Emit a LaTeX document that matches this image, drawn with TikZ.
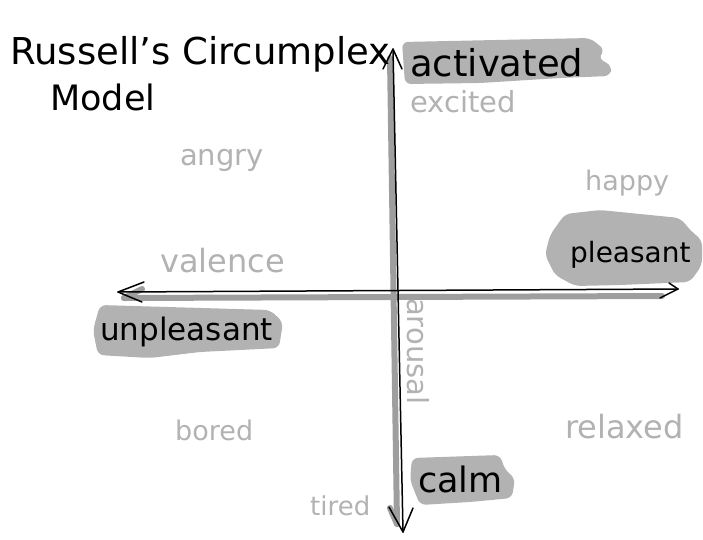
\documentclass[tikz,border=0pt]{standalone}
\usepackage{fontspec}
\setmainfont{DejaVu Sans}
\definecolor{blob}{gray}{0.70}
\definecolor{soft}{gray}{0.70}
\definecolor{under}{gray}{0.62}
\tikzset{
  hand/.style={anchor=base west, inner sep=0pt, text=black},
  faint/.style={anchor=base west, inner sep=0pt, text=soft},
  blobfill/.style={fill=blob, draw=none, rounded corners=6pt},
  axisunder/.style={draw=under, line width=6pt, line cap=round},
  axisline/.style={draw=black, line width=1.5pt, line cap=round, line join=round},
}
\newcommand{\fs}[1]{\fontsize{#1}{#1}\selectfont}
\begin{document}
\begin{tikzpicture}[x=1pt,y=-1pt]
\useasboundingbox (0,0) rectangle (703,539);
% highlight blobs
\fill[blobfill] (402,42) -- (590,38) -- (605,50) -- (598,58) -- (612,66) -- (610,76) -- (560,78) -- (480,83) -- (405,84) -- cycle;
\fill[blobfill] (565,214) -- (600,210) -- (680,218) -- (692,232) -- (702,240) -- (702,265) -- (690,282) -- (620,285) -- (575,286) -- (555,275) -- (545,255) -- (550,235) -- cycle;
\fill[blobfill] (100,305) -- (270,310) -- (283,322) -- (279,348) -- (200,352) -- (150,358) -- (98,355) -- (93,330) -- cycle;
\fill[blobfill] (412,458) -- (500,455) -- (505,470) -- (515,478) -- (512,498) -- (470,502) -- (420,505) -- (410,480) -- cycle;
% axis end points
\coordinate (vtop) at (393,49);
\coordinate (vbot) at (403,532);
\coordinate (vtopu) at (390,58);
\coordinate (vbotu) at (397,524);
\coordinate (hleft) at (118,292);
\coordinate (hright) at (678,289);
\coordinate (hleftu) at (124,298);
\coordinate (hrightu) at (662,296);
% axes (gray underlay)
\draw[axisunder] (vtopu) -- (vbotu);
\draw[axisunder] (hleftu) -- (hrightu);
\draw[under, line width=6pt, line cap=round] (vbotu) -- ++(-7,-16);
\draw[under, line width=6pt, line cap=round] (hleftu) -- ++(18,-9);
% axes (black lines with open heads)
\draw[axisline] (vtop) -- (vbot);
\draw[axisline] (hleft) -- (hright);
\draw[axisline] (vtop) ++(-10,20) -- (vtop) -- ++(9,20);
\draw[axisline] (vbot) ++(-14,-25) -- (vbot) -- ++(10,-24);
\draw[axisline] (hleft) ++(26,-10) -- (hleft) -- ++(24,10);
\draw[axisline] (hright) ++(-9,-6) -- (hright) -- ++(-18,9);
% title
\node[hand] (t1) at (10,64) {\fs{37}Russell's Circumplex};
\node[hand] (t2) at (50,110) {\fs{35}Model};
% pole labels
\node[hand] (act) at (410,76) {\fs{37}activated};
\node[hand] (ple) at (570,262) {\fs{28}pleasant};
\node[hand] (unp) at (100,340) {\fs{31}unpleasant};
\node[hand] (calm) at (418,492) {\fs{35}calm};
% faint labels
\node[faint] (exc) at (410,112) {\fs{29}excited};
\node[faint] (ang) at (180,165) {\fs{29}angry};
\node[faint] (hap) at (585,190) {\fs{27}happy};
\node[faint] (val) at (160,272) {\fs{32}valence};
\node[faint, rotate=-90] (aro) at (407,298) {\fs{29}arousal};
\node[faint] (bor) at (175,440) {\fs{27}bored};
\node[faint] (rel) at (565,438) {\fs{32}relaxed};
\node[faint] (tir) at (310,515) {\fs{26}tired};
\end{tikzpicture}
\end{document}
